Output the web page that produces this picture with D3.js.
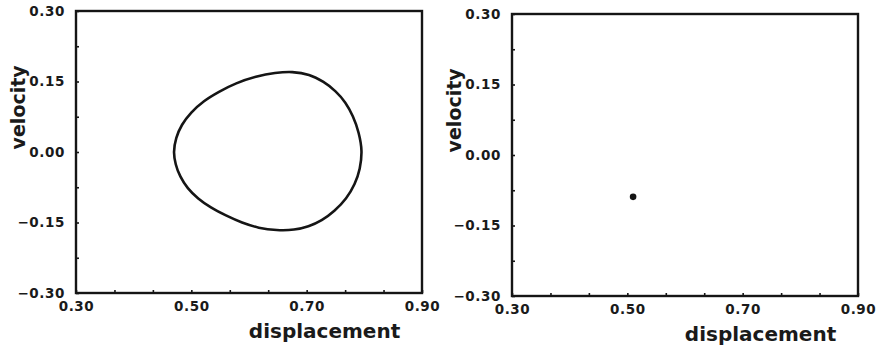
<!DOCTYPE html>
<html>
<head>
<meta charset="utf-8">
<script src="https://cdn.jsdelivr.net/npm/d3@7/dist/d3.min.js"></script>
<style>
  html, body { margin: 0; padding: 0; background: #fff; }
  svg { display: block; }
  .tick-label { font-family: "DejaVu Sans", sans-serif; font-weight: bold; font-size: 13.5px; fill: #1a1a1a; letter-spacing: 0.6px; }
  .axis-title { font-family: "DejaVu Sans", sans-serif; font-weight: bold; fill: #1a1a1a; }
</style>
</head>
<body>
<script>
// Phase-plane limit cycle (displacement, velocity), traced clockwise from the left turning point
const cycleDisplacement = [0.470, 0.474, 0.484, 0.500, 0.522, 0.548, 0.578, 0.612, 0.645, 0.675, 0.704,
                           0.729, 0.750, 0.767, 0.780, 0.790, 0.795,
                           0.792, 0.783, 0.768, 0.748, 0.726, 0.703, 0.678, 0.648, 0.617, 0.588,
                           0.560, 0.534, 0.512, 0.494, 0.481, 0.473];
const cycleVelocity     = [0.000, 0.030, 0.058, 0.084, 0.108, 0.128, 0.146, 0.160, 0.168, 0.170, 0.164,
                           0.149, 0.129, 0.105, 0.076, 0.041, 0.003,
                           -0.035, -0.068, -0.099, -0.125, -0.145, -0.158, -0.165, -0.166, -0.161, -0.150,
                           -0.135, -0.118, -0.099, -0.077, -0.052, -0.026];

// Stable fixed point in the second plane
const fixedDisplacement = [0.510];
const fixedVelocity     = [-0.089];

// Axis ticks
const xTickLabels = [0.30, 0.50, 0.70, 0.90];
const yTickLabels = [-0.30, -0.15, 0.00, 0.15, 0.30];
const xMinorTicks = [0.30, 0.3667, 0.4333, 0.50, 0.5667, 0.6333, 0.70, 0.7667, 0.8333, 0.90];
const yMinorTicks = [-0.30, -0.225, -0.15, -0.075, 0.00, 0.075, 0.15, 0.225, 0.30];

const xDomain = [0.30, 0.90];
const yDomain = [-0.30, 0.30];

const W = 878, H = 352;
const ink = "#151515";

const svg = d3.select("body").append("svg")
  .attr("width", W).attr("height", H);

const panels = [
  { left: 76,  top: 11, width: 346, height: 282, kind: "cycle" },
  { left: 512, top: 14, width: 346, height: 282, kind: "point" }
];

const fmt = d3.format(".2f");

panels.forEach(p => {
  const g = svg.append("g").attr("transform", `translate(${p.left},${p.top})`);
  const x = d3.scaleLinear().domain(xDomain).range([0, p.width]);
  const y = d3.scaleLinear().domain(yDomain).range([p.height, 0]);

  // inward minor ticks along the bottom
  g.append("g")
    .attr("transform", `translate(0,${p.height})`)
    .call(d3.axisBottom(x).tickValues(xMinorTicks).tickSize(-3).tickFormat(""))
    .call(a => a.select(".domain").remove())
    .call(a => a.selectAll("line").attr("stroke", ink).attr("stroke-width", 1.6));

  // inward minor ticks along the left side
  g.append("g")
    .call(d3.axisLeft(y).tickValues(yMinorTicks).tickSize(-3).tickFormat(""))
    .call(a => a.select(".domain").remove())
    .call(a => a.selectAll("line").attr("stroke", ink).attr("stroke-width", 1.6));

  // labelled ticks
  g.append("g")
    .attr("transform", `translate(0,${p.height})`)
    .call(d3.axisBottom(x).tickValues(xTickLabels).tickSize(0).tickPadding(7).tickFormat(fmt))
    .call(a => a.select(".domain").remove())
    .call(a => a.selectAll("text").attr("class", "tick-label").attr("dy", "0.85em"));

  g.append("g")
    .call(d3.axisLeft(y).tickValues(yTickLabels).tickSize(0).tickPadding(11).tickFormat(fmt))
    .call(a => a.select(".domain").remove())
    .call(a => a.selectAll("text").attr("class", "tick-label"));

  // frame
  g.append("rect")
    .attr("x", 0).attr("y", 0)
    .attr("width", p.width).attr("height", p.height)
    .attr("fill", "none").attr("stroke", ink).attr("stroke-width", 2.4);

  // axis titles
  g.append("text")
    .attr("class", "axis-title")
    .attr("font-size", 20)
    .attr("text-anchor", "middle")
    .attr("x", x(0.731)).attr("y", p.height + 45)
    .text("displacement");

  g.append("text")
    .attr("class", "axis-title")
    .attr("font-size", 19)
    .attr("text-anchor", "middle")
    .attr("transform", `translate(-51,${y(0.095)}) rotate(-90)`)
    .text("velocity");

  if (p.kind === "cycle") {
    const pts = cycleDisplacement.map((d, i) => [d, cycleVelocity[i]]);
    const line = d3.line()
      .x(d => x(d[0])).y(d => y(d[1]))
      .curve(d3.curveCatmullRomClosed.alpha(0.5));
    g.append("path")
      .attr("d", line(pts))
      .attr("fill", "none").attr("stroke", ink).attr("stroke-width", 2.6);
  } else {
    g.selectAll("circle.fp")
      .data(fixedDisplacement.map((d, i) => [d, fixedVelocity[i]]))
      .enter().append("circle")
      .attr("class", "fp")
      .attr("cx", d => x(d[0])).attr("cy", d => y(d[1]))
      .attr("r", 3.3).attr("fill", ink);
  }
});
</script>
</body>
</html>
